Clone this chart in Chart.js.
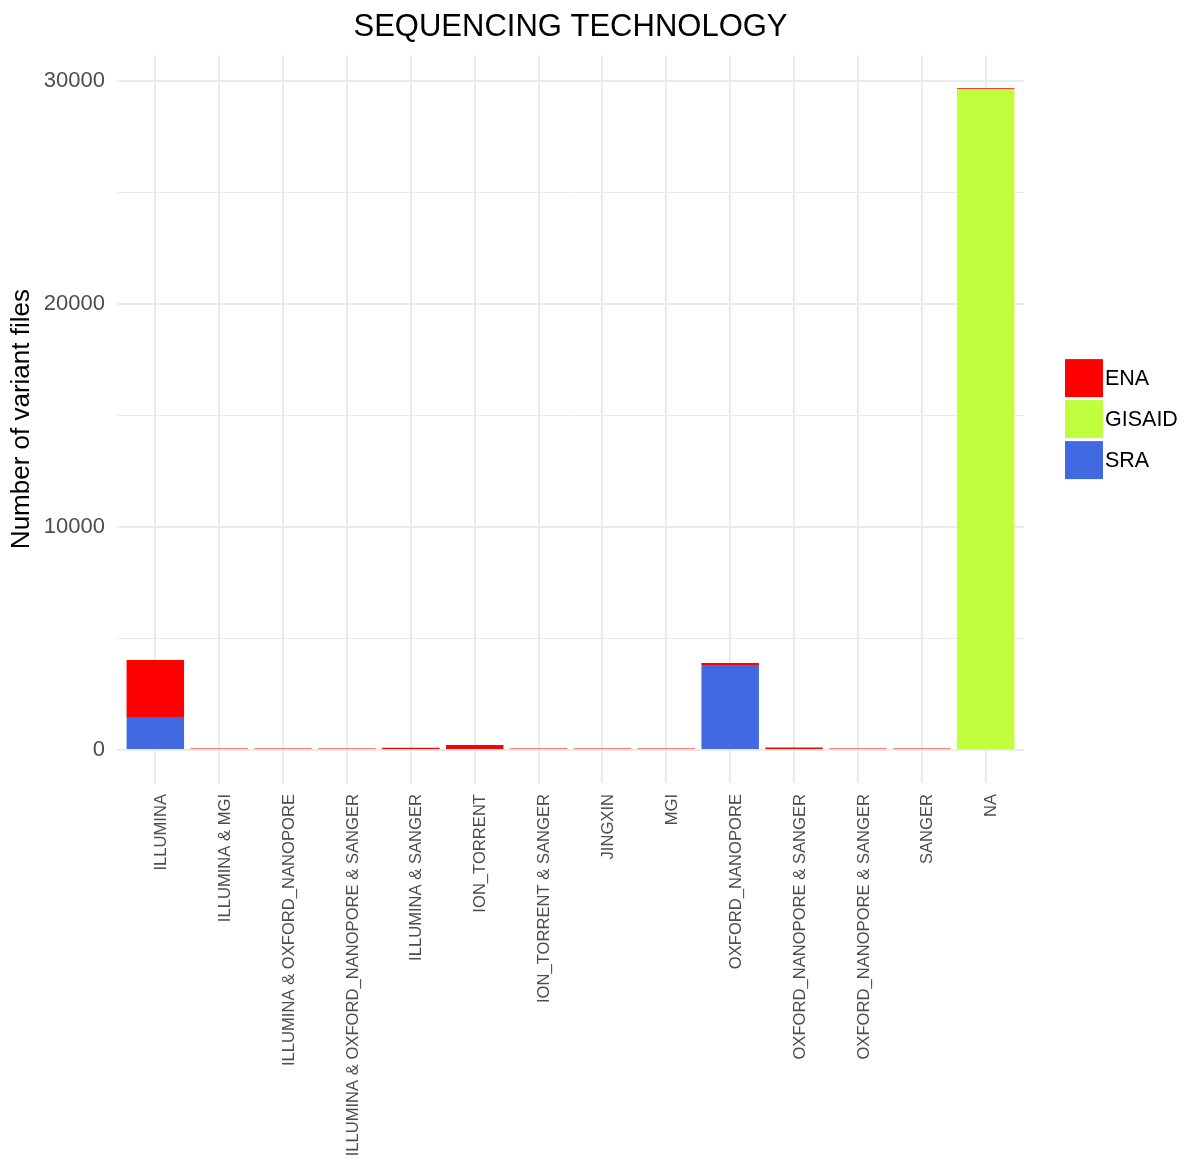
<!DOCTYPE html>
<html>
<head>
<meta charset="utf-8">
<script src="https://cdn.jsdelivr.net/npm/chart.js@4/dist/chart.umd.min.js"></script>
<style>
  body { margin: 0; background: #ffffff; }
  #wrap { width: 1185px; height: 1162px; }
</style>
</head>
<body>
<div id="wrap"><canvas id="chart" width="1185" height="1162"></canvas></div>
<script>
// categories along x
const technologies = [
  "ILLUMINA",
  "ILLUMINA & MGI",
  "ILLUMINA & OXFORD_NANOPORE",
  "ILLUMINA & OXFORD_NANOPORE & SANGER",
  "ILLUMINA & SANGER",
  "ION_TORRENT",
  "ION_TORRENT & SANGER",
  "JINGXIN",
  "MGI",
  "OXFORD_NANOPORE",
  "OXFORD_NANOPORE & SANGER",
  "OXFORD_NANOPORE & SANGER",
  "SANGER",
  "NA"
];

// counts per source
const enaCounts    = [2560, 60, 60, 60, 100, 220, 60, 60, 60, 90, 110, 60, 65, 50];
const gisaidCounts = [0, 0, 0, 0, 0, 0, 0, 0, 0, 0, 0, 0, 0, 29640];
const sraCounts    = [1480, 0, 0, 0, 0, 0, 0, 0, 0, 3810, 0, 0, 0, 0];

const yTicks = [0, 5000, 10000, 15000, 20000, 25000, 30000];

const GRID = "#EBEBEB";
const FONT = "'Liberation Sans', Arial, sans-serif";

const toPoints = arr => arr.map((v, i) => ({ x: i, y: v }));

// ggplot-style legend on the right side
const sideLegend = {
  id: 'sideLegend',
  afterDraw(chart) {
    const ctx = chart.ctx;
    const area = chart.chartArea;
    const items = chart.data.datasets.slice().reverse();
    const box = 38, gap = 3;
    const total = items.length * box + (items.length - 1) * gap;
    let y = (area.top + area.bottom) / 2 - total / 2;
    ctx.save();
    ctx.font = "21.5px " + FONT;
    ctx.textBaseline = 'middle';
    ctx.textAlign = 'left';
    items.forEach(ds => {
      ctx.fillStyle = ds.backgroundColor;
      ctx.fillRect(1065, y, box, box);
      ctx.fillStyle = '#000000';
      ctx.fillText(ds.label, 1105, y + box / 2 + 1);
      y += box + gap;
    });
    ctx.restore();
  }
};

new Chart(document.getElementById('chart'), {
  type: 'bar',
  data: {
    datasets: [
      { label: 'SRA', data: toPoints(sraCounts), backgroundColor: '#4169E1' },
      { label: 'GISAID', data: toPoints(gisaidCounts), backgroundColor: '#C0FF3E' },
      { label: 'ENA', data: toPoints(enaCounts), backgroundColor: '#FF0000' }
    ]
  },
  plugins: [sideLegend],
  options: {
    responsive: false,
    animation: false,
    categoryPercentage: 1,
    barPercentage: 0.9,
    borderWidth: 0,
    layout: { padding: { right: 161, left: 0, bottom: 0 } },
    plugins: {
      legend: { display: false },
      tooltip: { enabled: false },
      title: {
        display: true,
        text: 'SEQUENCING TECHNOLOGY',
        fullSize: false,
        color: '#000000',
        font: { family: FONT, size: 31, weight: 'normal' },
        padding: { top: 9, bottom: 9 }
      }
    },
    scales: {
      x: {
        type: 'linear',
        stacked: true,
        offset: false,
        min: -0.6,
        max: 13.6,
        border: { display: false },
        grid: { color: GRID, lineWidth: 2, drawTicks: false, offset: false },
        afterBuildTicks: s => { s.ticks = technologies.map((_, i) => ({ value: i })); },
        afterFit: s => { s.height = 379; },
        ticks: {
          autoSkip: false,
          minRotation: 90,
          maxRotation: 90,
          padding: 11,
          labelOffset: 6,
          color: '#4D4D4D',
          font: { family: FONT, size: 16.6 },
          callback: v => technologies[v]
        }
      },
      y: {
        stacked: true,
        min: -1484,
        max: 31170,
        border: { display: false },
        grid: {
          color: GRID,
          drawTicks: false,
          lineWidth: c => (c.tick && c.tick.value % 10000 === 0 ? 2 : 1)
        },
        afterBuildTicks: s => { s.ticks = yTicks.map(v => ({ value: v })); },
        afterFit: s => { s.width = 117; },
        ticks: {
          padding: 12,
          color: '#4D4D4D',
          font: { family: FONT, size: 22 },
          callback: v => (v % 10000 === 0 ? String(v) : '')
        },
        title: {
          display: true,
          text: 'Number of variant files',
          color: '#000000',
          font: { family: FONT, size: 26 },
          padding: { top: 6, bottom: 0 }
        }
      }
    }
  }
});
</script>
</body>
</html>
